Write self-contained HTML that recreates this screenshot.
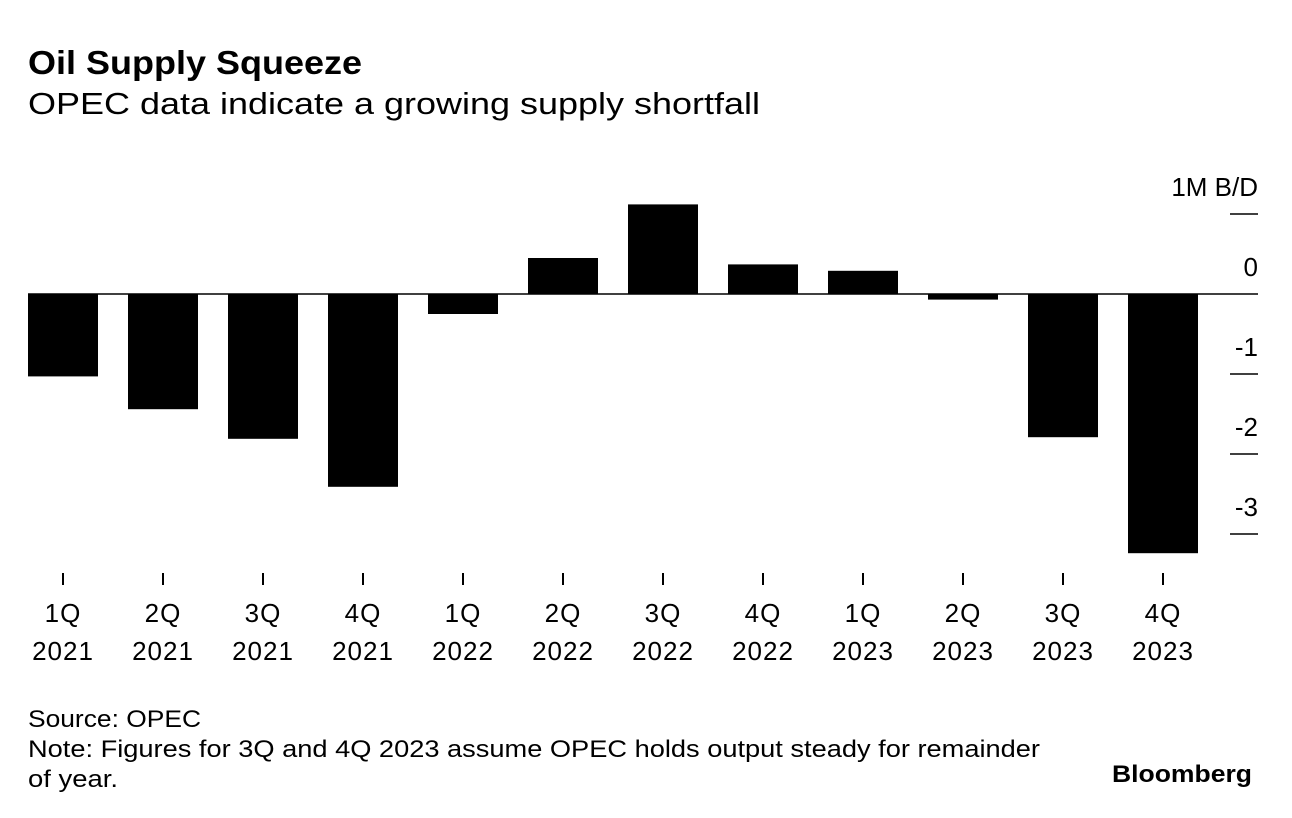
<!DOCTYPE html>
<html><head><meta charset="utf-8"><style>
body{margin:0;background:#fff;width:1292px;height:818px;overflow:hidden;font-family:"Liberation Sans",sans-serif;color:#000}
svg{position:absolute;left:0;top:0}
</style></head><body>
<svg width="1292" height="818" font-family="Liberation Sans, sans-serif">
<text x="28" y="74" font-size="33" font-weight="bold" textLength="334" lengthAdjust="spacingAndGlyphs">Oil Supply Squeeze</text>
<text x="28" y="114" font-size="31" textLength="732" lengthAdjust="spacingAndGlyphs">OPEC data indicate a growing supply shortfall</text>
<g id="plot"></g>
<text x="28" y="727" font-size="24" textLength="173" lengthAdjust="spacingAndGlyphs">Source: OPEC</text>
<text x="28" y="757" font-size="24" textLength="1012" lengthAdjust="spacingAndGlyphs">Note: Figures for 3Q and 4Q 2023 assume OPEC holds output steady for remainder</text>
<text x="28" y="787" font-size="24" textLength="90" lengthAdjust="spacingAndGlyphs">of year.</text>
<text x="1252" y="782" font-size="24" font-weight="bold" text-anchor="end" textLength="140" lengthAdjust="spacingAndGlyphs">Bloomberg</text>
</svg>
<script>
const quarters=["1Q","2Q","3Q","4Q","1Q","2Q","3Q","4Q","1Q","2Q","3Q","4Q"];
const years=["2021","2021","2021","2021","2022","2022","2022","2022","2023","2023","2023","2023"];
const values=[-1.03,-1.44,-1.81,-2.41,-0.25,0.45,1.12,0.37,0.29,-0.07,-1.79,-3.24];
const yTicks=[1,0,-1,-2,-3];
const yTickLabels=["1M B/D","0","-1","-2","-3"];
const NS="http://www.w3.org/2000/svg";
const g=document.getElementById('plot');
const y=v=>294-v*80;
const xc=i=>63+i*100;
function mk(t,a){const e=document.createElementNS(NS,t);for(const k in a)e.setAttribute(k,a[k]);g.appendChild(e);return e;}
values.forEach((v,i)=>{
 const r=mk('rect',{x:xc(i)-35,y:Math.min(y(v),y(0)),width:70,height:Math.abs(y(v)-y(0)),fill:'#000'});
 
 
 const tk=mk('line',{x1:xc(i),x2:xc(i),y1:573,y2:585,stroke:'#000','stroke-width':2});
 
 
 const t1=mk('text',{x:xc(i),y:622,'font-size':26,'text-anchor':'middle','letter-spacing':1});t1.textContent=quarters[i];
 
 
 const t2=mk('text',{x:xc(i),y:660,'font-size':26,'text-anchor':'middle','letter-spacing':1});t2.textContent=years[i];
 
 
});
const zl=mk('line',{x1:28,x2:1230,y1:y(0),y2:y(0),stroke:'#000','stroke-width':1.5});


yTicks.forEach((v,i)=>{
 const l=mk('line',{x1:1230,x2:1258,y1:y(v),y2:y(v),stroke:'#000','stroke-width':1.5});
 
 
 const t=mk('text',{x:1258,y:y(v)-18,'font-size':26,'text-anchor':'end'});t.textContent=yTickLabels[i];
 
 
});
</script>
</body></html>
